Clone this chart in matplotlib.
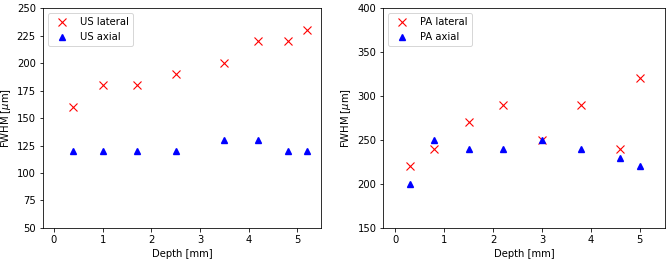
import matplotlib
matplotlib.use("Agg")
import matplotlib.pyplot as plt

# ultrasound data
us_depth = [0.4, 1.0, 1.7, 2.5, 3.5, 4.2, 4.8, 5.2]
us_lateral = [160, 180, 180, 190, 200, 220, 220, 230]
us_axial = [120, 120, 120, 120, 130, 130, 120, 120]

# photoacoustic data
pa_depth = [0.3, 0.8, 1.5, 2.2, 3.0, 3.8, 4.6, 5.0]
pa_lateral = [220, 240, 270, 290, 250, 290, 240, 320]
pa_axial = [200, 250, 240, 240, 250, 240, 230, 220]

# figure looks like a shrunk default matplotlib plot, so scale everything down
s = 0.72
plt.rcParams.update({
    "font.size": 10 * s,
    "axes.linewidth": 0.8 * s,
    "axes.labelpad": 4 * s,
    "xtick.major.size": 3.5 * s,
    "ytick.major.size": 3.5 * s,
    "xtick.major.width": 0.8 * s,
    "ytick.major.width": 0.8 * s,
    "xtick.major.pad": 3.5 * s,
    "ytick.major.pad": 3.5 * s,
    "legend.borderpad": 0.4,
    "patch.linewidth": 0.7,
})
fig = plt.figure(figsize=(6.68, 2.62), dpi=100)

ax1 = fig.add_axes([0.064, 0.130, 0.417, 0.839])
ax1.plot(us_depth, us_lateral, "rx", ms=5.2, mew=0.8, label="US lateral")
ax1.plot(us_depth, us_axial, "b^", ms=4.6, label="US axial")
ax1.set_xlim(-0.23, 5.49)
ax1.set_ylim(50, 250)
ax1.set_yticks(range(50, 251, 25))
ax1.set_xlabel("Depth [mm]")
ax1.set_ylabel(r"FWHM [$\mu$m]")
ax1.legend(loc="upper left")

ax2 = fig.add_axes([0.574, 0.130, 0.421, 0.839])
ax2.plot(pa_depth, pa_lateral, "rx", ms=5.2, mew=0.8, label="PA lateral")
ax2.plot(pa_depth, pa_axial, "b^", ms=4.6, label="PA axial")
ax2.set_xlim(-0.24, 5.51)
ax2.set_ylim(150, 400)
ax2.set_xlabel("Depth [mm]")
ax2.set_ylabel(r"FWHM [$\mu$m]")
ax2.legend(loc="upper left")

fig.savefig("out.png", dpi=100)
